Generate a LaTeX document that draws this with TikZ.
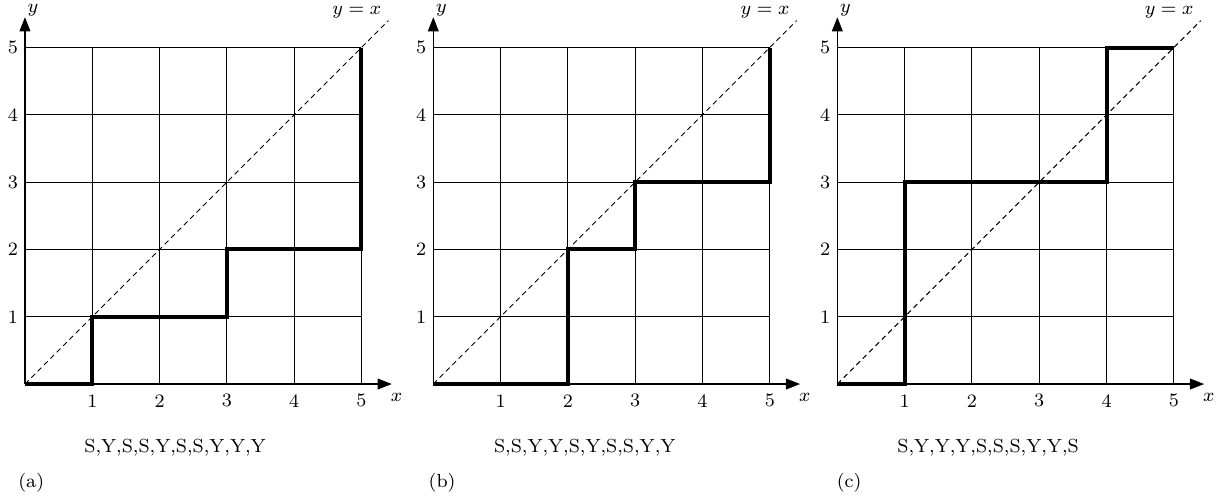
\documentclass[tikz,border=0pt]{standalone}
\usepackage{amsmath,amssymb}
\usepackage{tikz}
\usetikzlibrary{arrows.meta}

\begin{document}
\begin{tikzpicture}[every node/.style={font=\footnotesize, inner sep=1pt}, >={Triangle[length=6pt,width=4.6pt]},
	gridline/.style={line width=0.45pt}, axis/.style={line width=0.45pt, ->}, diag/.style={line width=0.4pt, dash pattern=on 2.2pt off 1.6pt},
	walk/.style={line width=1.7pt, line join=miter}]
	\useasboundingbox (-0.371,-1.709) rectangle (17.89,5.706);
	% (a)
	\begin{scope}
		\draw[gridline] (0,0) grid (5,5);
		\coordinate (oa) at (0,0);
		\coordinate (xa) at (5.45,0);
		\coordinate (ya) at (0,5.45);
		\coordinate (da) at (5.4,5.4);
		\draw[axis] (oa) -- (xa);
		\draw[axis] (oa) -- (ya);
		\draw[diag] (oa) -- (da);
		\draw[walk] (0,0) -- (1,0) -- (1,1) -- (3,1) -- (3,2) -- (5,2) -- (5,5);
		\foreach \i in {1,...,5} {
			\node (ax\i) at (\i,-0.25) {\i};
			\node (ay\i) at (-0.18,\i) {\i};
		}
		\node (alx) at (5.52,-0.2) {$x$};
		\node (aly) at (0.12,5.56) {$y$};
		\node (ald) at (4.93,5.52) {$y=x$};
		\node (aseq) at (2.23,-0.95) {S,Y,S,S,Y,S,S,Y,Y,Y};
		\node[anchor=west] (acap) at (-0.14,-1.46) {(a)};
	\end{scope}
	% (b)
	\begin{scope}[xshift=6.067cm]
		\draw[gridline] (0,0) grid (5,5);
		\coordinate (ob) at (0,0);
		\coordinate (xb) at (5.45,0);
		\coordinate (yb) at (0,5.45);
		\coordinate (db) at (5.4,5.4);
		\draw[axis] (ob) -- (xb);
		\draw[axis] (ob) -- (yb);
		\draw[diag] (ob) -- (db);
		\draw[walk] (0,0) -- (2,0) -- (2,2) -- (3,2) -- (3,3) -- (5,3) -- (5,5);
		\foreach \i in {1,...,5} {
			\node (bx\i) at (\i,-0.25) {\i};
			\node (by\i) at (-0.18,\i) {\i};
		}
		\node (blx) at (5.52,-0.2) {$x$};
		\node (bly) at (0.12,5.56) {$y$};
		\node (bld) at (4.93,5.52) {$y=x$};
		\node (bseq) at (2.25,-0.95) {S,S,Y,Y,S,Y,S,S,Y,Y};
		\node[anchor=west] (bcap) at (-0.11,-1.46) {(b)};
	\end{scope}
	% (c)
	\begin{scope}[xshift=12.07cm]
		\draw[gridline] (0,0) grid (5,5);
		\coordinate (oc) at (0,0);
		\coordinate (xc) at (5.45,0);
		\coordinate (yc) at (0,5.45);
		\coordinate (dc) at (5.4,5.4);
		\draw[axis] (oc) -- (xc);
		\draw[axis] (oc) -- (yc);
		\draw[diag] (oc) -- (dc);
		\draw[walk] (0,0) -- (1,0) -- (1,3) -- (4,3) -- (4,5) -- (5,5);
		\foreach \i in {1,...,5} {
			\node (cx\i) at (\i,-0.25) {\i};
			\node (cy\i) at (-0.18,\i) {\i};
		}
		\node (clx) at (5.52,-0.2) {$x$};
		\node (cly) at (0.12,5.56) {$y$};
		\node (cld) at (4.93,5.52) {$y=x$};
		\node (cseq) at (2.24,-0.95) {S,Y,Y,Y,S,S,S,Y,Y,S};
		\node[anchor=west] (ccap) at (-0.05,-1.46) {(c)};
	\end{scope}
\end{tikzpicture}
\end{document}
